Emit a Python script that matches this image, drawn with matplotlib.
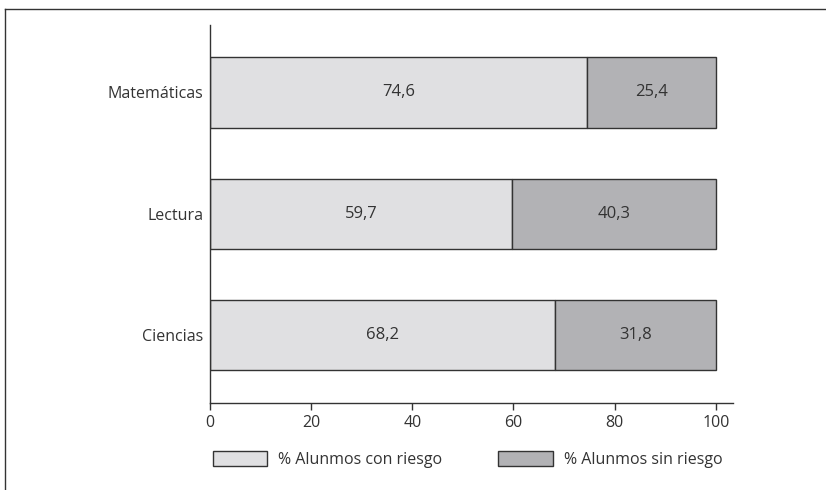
import matplotlib
matplotlib.use("Agg")
import matplotlib.pyplot as plt
from matplotlib.patches import Patch
from matplotlib.lines import Line2D

categories = ["Ciencias", "Lectura", "Matemáticas"]
con_riesgo = [68.2, 59.7, 74.6]
sin_riesgo = [31.8, 40.3, 25.4]
series_names = ["% Alunmos con riesgo", "% Alunmos sin riesgo"]
xticks = [0, 20, 40, 60, 80, 100]

plt.rcParams['font.family'] = ['Open Sans', 'DejaVu Sans']
fs = 11.5
txt = '#333333'
c_light = '#e0e0e2'
c_dark = '#b2b2b5'
edge = '#333333'

fig = plt.figure(figsize=(8.26, 4.9), dpi=100)
ax = fig.add_axes([0.2542, 0.1776, 0.8874 - 0.2542, 0.949 - 0.1776])

y = list(range(len(categories)))
ax.barh(y, con_riesgo, height=0.58, color=c_light, edgecolor=edge, linewidth=1.0)
ax.barh(y, sin_riesgo, left=con_riesgo, height=0.58, color=c_dark, edgecolor=edge, linewidth=1.0)

for i in y:
    ax.text(con_riesgo[i] / 2, i, f"{con_riesgo[i]:.1f}".replace('.', ','),
            ha='center', va='center', fontsize=fs + 0.5, color=txt)
    ax.text(con_riesgo[i] + sin_riesgo[i] / 2, i, f"{sin_riesgo[i]:.1f}".replace('.', ','),
            ha='center', va='center', fontsize=fs + 0.5, color=txt)

ax.set_xlim(0, 103.4)
ax.set_ylim(-0.56, 2.556)
ax.set_xticks(xticks)
ax.set_xticklabels([str(t) for t in xticks])
ax.set_yticks(y)
ax.set_yticklabels(categories)
ax.tick_params(axis='y', length=0, pad=5, labelsize=fs, colors=txt)
ax.tick_params(axis='x', length=5, width=1, pad=4, labelsize=fs, colors=txt)
for s in ['top', 'right']:
    ax.spines[s].set_visible(False)
for s in ['left', 'bottom']:
    ax.spines[s].set_color(edge)
    ax.spines[s].set_linewidth(1.0)

handles = [Patch(facecolor=c_light, edgecolor=edge, linewidth=1.0),
           Patch(facecolor=c_dark, edgecolor=edge, linewidth=1.0)]
leg = fig.legend(handles, series_names, loc='center', bbox_to_anchor=(0.566, 0.062),
                 ncol=2, frameon=False, fontsize=fs, handlelength=3.4, handleheight=1.0,
                 columnspacing=3.5, handletextpad=0.7)
for t in leg.get_texts():
    t.set_color(txt)

# outer frame
fig.add_artist(Line2D([5 / 826, 1.0], [1 - 9 / 490, 1 - 9 / 490], transform=fig.transFigure,
                      color='#333333', linewidth=1.0))
fig.add_artist(Line2D([5 / 826, 5 / 826], [0, 1 - 9 / 490], transform=fig.transFigure,
                      color='#333333', linewidth=1.0))

fig.savefig("out.png", dpi=100)
